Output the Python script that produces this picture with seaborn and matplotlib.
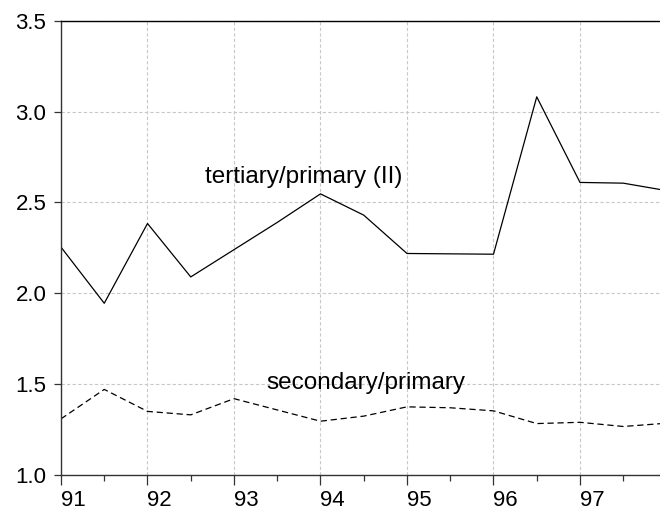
import matplotlib
matplotlib.use("Agg")
import matplotlib.pyplot as plt
from matplotlib.ticker import MultipleLocator, FixedLocator, FormatStrFormatter
import seaborn as sns
import pandas as pd

# Half-yearly observations, 1991H1 .. 1998H1 (years as two-digit numbers)
periods = [91.0, 91.5, 92.0, 92.5, 93.0, 93.5, 94.0, 94.5,
           95.0, 95.5, 96.0, 96.5, 97.0, 97.5, 98.0]
tertiary_primary = [2.254, 1.945, 2.384, 2.090, 2.240, 2.390, 2.547, 2.430,
                    2.219, 2.217, 2.215, 3.081, 2.610, 2.606, 2.565]
secondary_primary = [1.309, 1.471, 1.350, 1.331, 1.420, 1.358, 1.296, 1.324,
                     1.375, 1.370, 1.353, 1.283, 1.290, 1.267, 1.285]
year_ticks = [91, 92, 93, 94, 95, 96, 97]
year_labels = ["91", "92", "93", "94", "95", "96", "97"]
label_tertiary = "tertiary/primary (II)"
label_secondary = "secondary/primary"

df = pd.DataFrame({
    "period": periods * 2,
    "ratio": tertiary_primary + secondary_primary,
    "series": [label_tertiary] * len(periods) + [label_secondary] * len(periods),
})

sns.set_style("white")
plt.rcParams["font.family"] = ["Liberation Sans", "DejaVu Sans"]
plt.rcParams["text.color"] = "black"

fig = plt.figure(figsize=(6.6, 5.17), dpi=100)
ax = fig.add_axes([61 / 660, 42 / 517, 1 - 61 / 660, 454.3 / 517])

sns.lineplot(
    data=df, x="period", y="ratio", style="series",
    style_order=[label_tertiary, label_secondary],
    dashes={label_tertiary: "", label_secondary: (5, 3)},
    color="black", linewidth=0.9, legend=False, ax=ax,
)

ax.set_xlim(91, 97.925)
ax.set_ylim(1.0, 3.5)
ax.xaxis.set_major_locator(FixedLocator(year_ticks))
ax.set_xticklabels(year_labels, ha="left")
ax.xaxis.set_minor_locator(MultipleLocator(0.5))
ax.yaxis.set_major_locator(MultipleLocator(0.5))
ax.yaxis.set_major_formatter(FormatStrFormatter("%.1f"))
ax.set_xlabel("")
ax.set_ylabel("")

ax.grid(True, which="major", color="#c8c8c8", linestyle=(0, (3, 2)), linewidth=0.8)
ax.set_axisbelow(True)

for side in ("left", "bottom", "top"):
    ax.spines[side].set_visible(True)
    ax.spines[side].set_color("#333333")
    ax.spines[side].set_linewidth(1.0)
ax.spines["top"].set_color("black")
ax.spines["right"].set_visible(False)

ax.tick_params(axis="x", which="major", direction="out", length=7, width=0.9,
               colors="#333333", labelcolor="black", labelsize=16, pad=4, bottom=True)
ax.tick_params(axis="x", which="minor", direction="out", length=4.5, width=0.9,
               colors="#333333", bottom=True)
ax.tick_params(axis="y", which="major", direction="out", length=5, width=0.9,
               colors="#333333", labelcolor="black", labelsize=16, pad=5.5, left=True)

ax.text(92.66, 2.606, label_tertiary, fontsize=17.5, color="black",
        ha="left", va="baseline")
ax.text(93.38, 1.476, label_secondary, fontsize=17.5, color="black",
        ha="left", va="baseline")

fig.savefig("out.png", dpi=100)
